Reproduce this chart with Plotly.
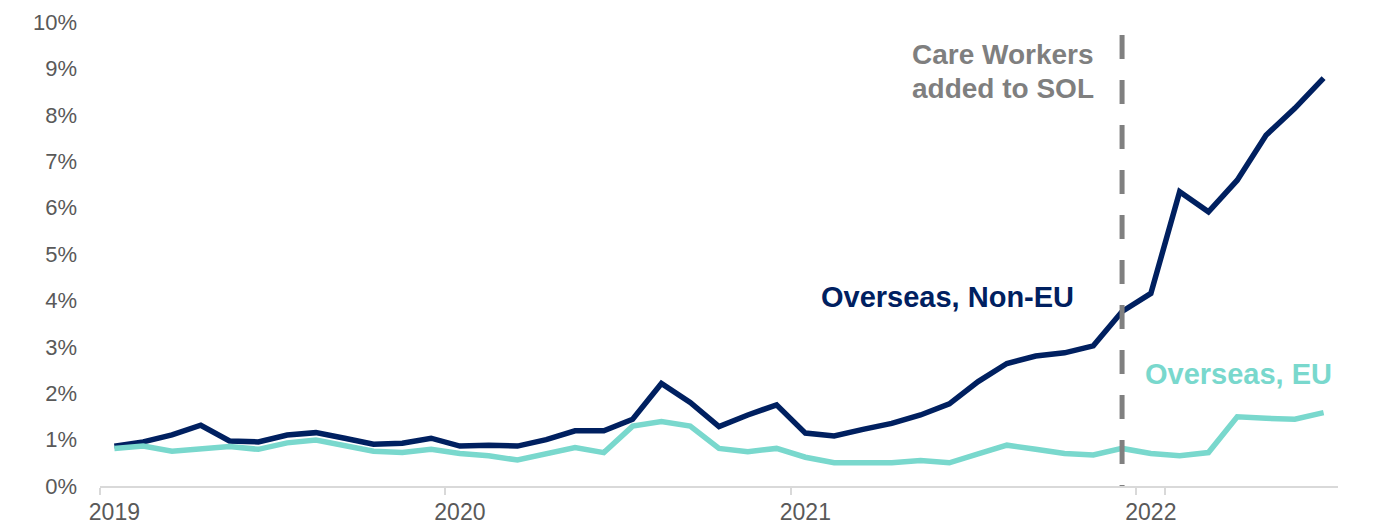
import pandas as pd
import plotly.graph_objects as go

# Monthly categories Jan 2019 - Jul 2022
months = pd.date_range("2019-01-01", periods=43, freq="MS").strftime("%b %Y").tolist()
year_ticks = ["Jan 2019", "Jan 2020", "Jan 2021", "Jan 2022"]
year_labels = ["2019", "2020", "2021", "2022"]

non_eu = [0.86, 0.95, 1.10, 1.31, 0.97, 0.95, 1.10, 1.15, 1.03, 0.90, 0.92, 1.03,
          0.86, 0.88, 0.86, 1.00, 1.19, 1.19, 1.44, 2.21, 1.80, 1.28, 1.53, 1.75,
          1.14, 1.08, 1.22, 1.35, 1.53, 1.77, 2.25, 2.64, 2.80, 2.87, 3.02, 3.76,
          4.15, 6.34, 5.91, 6.59, 7.56, 8.14, 8.79]
eu = [0.81, 0.86, 0.75, 0.80, 0.85, 0.79, 0.93, 0.99, 0.86, 0.75, 0.72, 0.79,
      0.70, 0.65, 0.56, 0.70, 0.83, 0.72, 1.29, 1.39, 1.29, 0.81, 0.74, 0.81,
      0.62, 0.50, 0.50, 0.50, 0.55, 0.50, 0.69, 0.88, 0.79, 0.70, 0.67, 0.81,
      0.70, 0.65, 0.72, 1.49, 1.46, 1.44, 1.58]

sol_month = "Dec 2021"
sol_line_top = 9.72

NAVY = "#002060"
TEAL = "#79D8CD"
GREY = "#7F7F7F"
FONT = "Arial, Liberation Sans, sans-serif"

fig = go.Figure()
fig.add_trace(go.Scatter(x=months, y=non_eu, mode="lines", name="Overseas, Non-EU",
                         line=dict(color=NAVY, width=5.5)))
fig.add_trace(go.Scatter(x=months, y=eu, mode="lines", name="Overseas, EU",
                         line=dict(color=TEAL, width=5.5)))

fig.add_shape(type="line", xref="x", yref="y", x0=sol_month, x1=sol_month,
              y0=sol_line_top, y1=0, layer="above",
              line=dict(color="#808080", width=5, dash="24px,21px"))

fig.add_annotation(x=28.94, y=4.08, xref="x", yref="y", text="<b>Overseas, Non-EU</b>",
                   showarrow=False, xanchor="center", yanchor="middle",
                   font=dict(family=FONT, size=29, color=NAVY))
fig.add_annotation(x=39.05, y=2.41, xref="x", yref="y", text="<b>Overseas, EU</b>",
                   showarrow=False, xanchor="center", yanchor="middle",
                   font=dict(family=FONT, size=29, color=TEAL))
fig.add_annotation(x=34.08, y=9.29, xref="x", yref="y", text="<b>Care Workers</b>",
                   showarrow=False, xanchor="right", yanchor="middle",
                   font=dict(family=FONT, size=28, color=GREY))
fig.add_annotation(x=34.08, y=8.57, xref="x", yref="y", text="<b>added to SOL</b>",
                   showarrow=False, xanchor="right", yanchor="middle",
                   font=dict(family=FONT, size=28, color=GREY))

fig.update_layout(
    width=1396, height=526,
    margin=dict(l=100, r=58, t=22, b=40, autoexpand=False),
    paper_bgcolor="white", plot_bgcolor="white",
    showlegend=False,
    font=dict(family=FONT, color="#595959"),
)
fig.update_xaxes(
    type="category", categoryorder="array", categoryarray=months,
    range=[-0.5, len(months) - 0.5],
    tickmode="array", tickvals=year_ticks, ticktext=year_labels, tickangle=0,
    tickson="boundaries", ticks="outside", ticklen=7, tickwidth=2, tickcolor="#D9D9D9",
    showline=True, linecolor="#D9D9D9", linewidth=2,
    showgrid=False, zeroline=False, automargin=False, ticklabelstandoff=4,
    tickfont=dict(family=FONT, size=23, color="#595959"),
)
fig.update_yaxes(
    range=[0, 10], tickmode="linear", tick0=0, dtick=1, ticksuffix="%",
    showgrid=False, zeroline=False, showline=False, ticks="",
    ticklabelstandoff=22, automargin=False,
    tickfont=dict(family=FONT, size=22, color="#595959"),
)

fig.write_html("out.html")
